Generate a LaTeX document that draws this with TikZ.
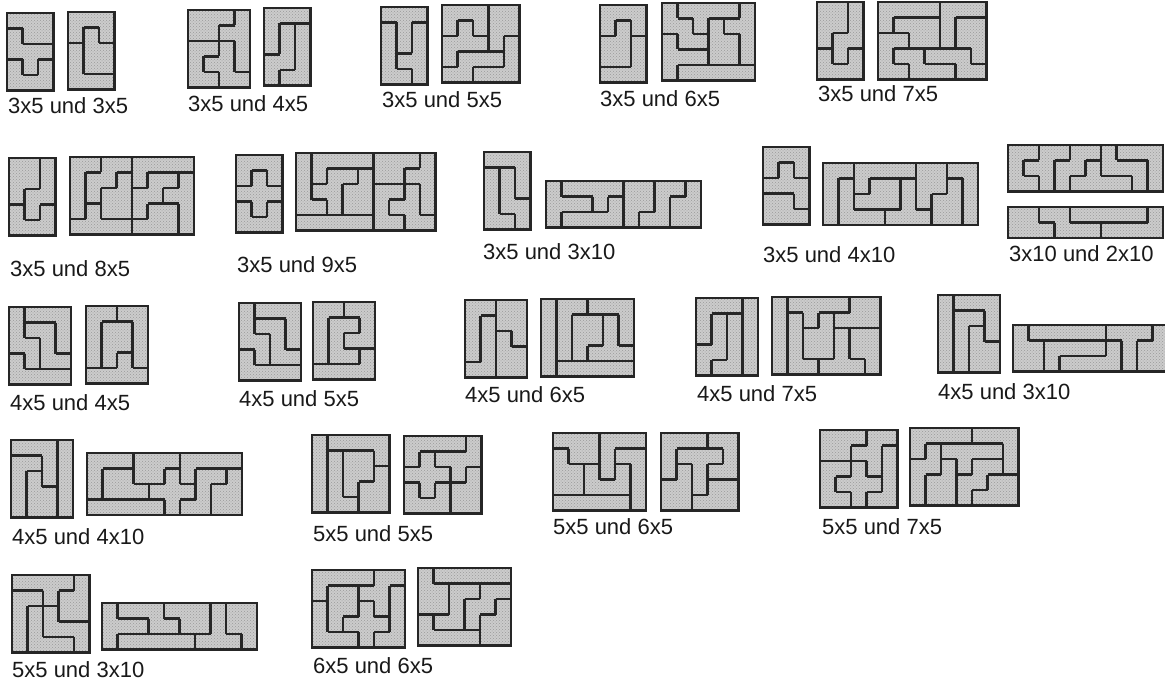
\documentclass[tikz,border=0pt]{standalone}
\usepackage{fontspec}
\setmainfont{Liberation Sans}
\usetikzlibrary{patterns}
\tikzset{
  boardfill/.style={fill=black!20},
  boarddots/.style={pattern=crosshatch dots,pattern color=black!40},
  cut/.style={draw=black!85,line width=2.1pt,line cap=square},
  rim/.style={draw=black!85,line width=2.2pt},
  lbl/.style={anchor=base west,inner sep=0pt,font=\fontsize{22}{24}\selectfont,text=black!90},
}
\newcount\cellcol
\def\readcells#1{\ifx#1\relax\else
  \global\advance\cellcol by 1
  \expandafter\xdef\csname pc\rowno-\the\cellcol\endcsname{#1}%
  \expandafter\readcells\fi}
\newcommand{\piecelines}[4]{%
  \pgfmathtruncatemacro\kn{#2+1}\pgfmathtruncatemacro\rn{#1+1}%
  \expandafter\let\expandafter\cellA\csname pc#1-#2\endcsname
  \expandafter\let\expandafter\cellB\csname pc#1-\kn\endcsname
  \expandafter\let\expandafter\cellC\csname pc\rn-#2\endcsname
  \ifnum#2<#3 \ifx\cellA\cellB\else\draw[cut] (#2,#1-1) -- (#2,#1);\fi\fi
  \ifnum#1<#4 \ifx\cellA\cellC\else\draw[cut] (#2-1,#1) -- (#2,#1);\fi\fi}
\newcommand{\board}[5]{%
  \begin{scope}[shift={(#1,#2)},x=15.5pt,y=-15.5pt]
    \fill[boardfill] (0,0) rectangle (#3,#4);
    \fill[boarddots] (0,0) rectangle (#3,#4);
    \foreach \cells [count=\rowno] in {#5}{\global\cellcol=0 \expandafter\readcells\cells\relax}
    \foreach \r in {1,...,#4}{\foreach \k in {1,...,#3}{\piecelines{\r}{\k}{#3}{#4}}}
    \draw[rim] (0,0) rectangle (#3,#4);
  \end{scope}}

\begin{document}
\begin{tikzpicture}[x=1pt,y=-1pt]
  \useasboundingbox[fill=white] (0,0) rectangle (1165,682);
  \board{7}{13}{3}{5}{aaa,baa,bbb,cbc,ccc}
  \board{68}{12}{3}{5}{aaa,aba,cbb,cbb,ccc}
  \board{188}{10}{4}{5}{aaab,aabb,ccdb,cddb,ccdd}
  \board{264}{8}{3}{5}{aaa,abc,abc,bbc,bcc}
  \board{381}{7}{3}{5}{aaa,bac,bac,bcc,bbc}
  \board{442}{5}{5}{5}{aaabb,acabb,cccbe,cddde,ddeee}
  \board{600}{5}{3}{5}{aaa,aba,bbc,bbc,ccc}
  \board{662}{3}{6}{5}{adddde,aadfee,baaffe,bbbffe,bccccc}
  \board{817}{2}{3}{5}{aab,aab,abb,cbc,ccc}
  \board{878}{2}{7}{5}{aaaaeee,abbbeff,ccbbeff,cddgggf,ccdddgg}
  \board{9}{158}{3}{5}{aab,aab,abb,cbc,ccc}
  \board{70}{157}{8}{5}{aacceeee,accdeffg,acddffgg,abddfhhg,bbbbhhhg}
  \board{236}{155}{3}{5}{aaa,aba,bbb,cbc,ccc}
  \board{296}{153}{9}{5}{abbbbfffg,abccdffgg,accddhhig,aacddhiig,eeeeehhii}
  \board{484}{152}{3}{5}{aaa,bca,bca,bcc,bbc}
  \board{546}{181}{10}{3}{abbbbddeef,aaabcddeff,accccdeeff}
  \board{763}{147}{3}{5}{aaa,aba,bbb,ccb,ccc}
  \board{823}{163}{10}{4}{aaccccffgg,abcddeffhg,abdddefhhg,abbbeeehhg}
  \board{1008}{145}{10}{3}{aabbccefff,abbccdeeef,aabcddddef}
  \board{1008}{207}{10}{2}{aabbcccccd,aaabbbdddd}
  \board{9}{307}{4}{5}{abbb,accb,aacb,dacc,dddd}
  \board{86}{306}{4}{5}{aabb,accb,accb,acdb,dddd}
  \board{239}{303}{4}{5}{abbb,accb,aacb,dacc,dddd}
  \board{313}{302}{4}{5}{aabb,accb,acbb,accd,dddd}
  \board{465}{300}{4}{5}{aabb,acbb,acdb,acdd,ccdd}
  \board{541}{299}{6}{5}{abbddd,abcced,abcced,abceee,afffff}
  \board{696}{298}{4}{5}{aaab,acdb,acdb,ccdb,cddb}
  \board{772}{297}{7}{5}{abbbbcc,adbfccc,adffhgg,adffhgg,addhhhg}
  \board{938}{295}{4}{5}{baaa,bcca,bcda,bcdd,bcdd}
  \board{1013}{325}{10}{3}{abbbbbeeef,aaccccdeff,aacddddeff}
  \board{11}{440}{4}{5}{aaab,ccab,cdab,cddb,cddb}
  \board{87}{453}{10}{4}{aaacccffff,abbccdfggh,abbbdddghh,eeeeedgghh}
  \board{312}{435}{5}{5}{abbbb,acddb,acdde,acdee,accee}
  \board{404}{436}{5}{5}{aaaab,axbbb,xxxbc,dxdcc,dddcc}
  \board{553}{433}{6}{5}{bbbddd,abbdff,aacdcf,aacccf,eeeeef}
  \board{661}{433}{5}{5}{aaabb,acccb,adcbb,ddcee,ddeee}
  \board{820}{430}{5}{5}{aaabb,aabbc,ddxbc,dxxxc,ddxcc}
  \board{910}{428}{7}{5}{aaaabbb,acddddb,ccedffb,ceeffgg,ceefggg}
  \board{12}{575}{5}{5}{aaaab,ccabb,cdebb,cdeee,cddde}
  \board{102}{603}{10}{3}{abbbdddeff,aaabbddeff,accccceeef}
  \board{312}{570}{6}{5}{aaaacc,aeeccg,deexcg,dexxxg,dddxgg}
  \board{418}{568}{6}{5}{abbbbb,aaddee,aadeef,cddeff,ccccff}
  \node[lbl] (p1) at (8,114) {3x5 und 3x5};
  \node[lbl] (p2) at (188,112) {3x5 und 4x5};
  \node[lbl] (p3) at (382,108) {3x5 und 5x5};
  \node[lbl] (p4) at (600,107) {3x5 und 6x5};
  \node[lbl] (p5) at (818,102) {3x5 und 7x5};
  \node[lbl] (p6) at (10,276) {3x5 und 8x5};
  \node[lbl] (p7) at (237,272) {3x5 und 9x5};
  \node[lbl] (p8) at (483,259) {3x5 und 3x10};
  \node[lbl] (p9) at (763,262) {3x5 und 4x10};
  \node[lbl] (p10) at (1009,261) {3x10 und 2x10};
  \node[lbl] (p11) at (10,410) {4x5 und 4x5};
  \node[lbl] (p12) at (239,406) {4x5 und 5x5};
  \node[lbl] (p13) at (465,402) {4x5 und 6x5};
  \node[lbl] (p14) at (697,401) {4x5 und 7x5};
  \node[lbl] (p15) at (938,399) {4x5 und 3x10};
  \node[lbl] (p16) at (12,544) {4x5 und 4x10};
  \node[lbl] (p17) at (313,541) {5x5 und 5x5};
  \node[lbl] (p18) at (553,534) {5x5 und 6x5};
  \node[lbl] (p19) at (822,534) {5x5 und 7x5};
  \node[lbl] (p20) at (12,677) {5x5 und 3x10};
  \node[lbl] (p21) at (313,673) {6x5 und 6x5};
\end{tikzpicture}
\end{document}
